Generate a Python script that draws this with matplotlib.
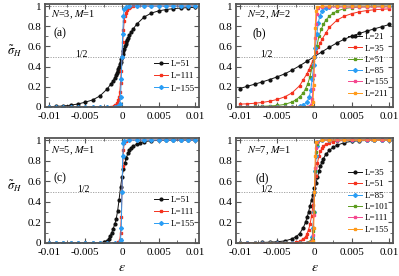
import matplotlib
matplotlib.use('Agg')
import matplotlib.pyplot as plt
from matplotlib.ticker import MultipleLocator

plt.rcParams['font.family'] = ['Liberation Serif', 'DejaVu Serif']
plt.rcParams['mathtext.fontset'] = 'stix'
plt.rcParams['axes.unicode_minus'] = False

# ---------------- data ----------------
# panel (a): N=3, M=1
a_x_L51 = [-0.01, -0.009, -0.008, -0.007, -0.006, -0.005, -0.004, -0.003, -0.002,
           -0.0015, -0.0012, -0.001, -0.0008, -0.0007, -0.0006, -0.0005, -0.0004, -0.0003, -0.0002, -0.0001,
           0.0,
           0.0001, 0.0002, 0.0003, 0.0004, 0.0005, 0.0006, 0.0007, 0.0008,
           0.001, 0.0012, 0.0015, 0.002,
           0.003, 0.004, 0.005, 0.006, 0.007, 0.008, 0.009, 0.01]
a_y_L51 = [0.004, 0.006, 0.01, 0.018, 0.03, 0.048, 0.07, 0.11, 0.18,
           0.23, 0.26, 0.29, 0.32, 0.34, 0.36, 0.38, 0.40, 0.425, 0.45, 0.475,
           0.5,
           0.525, 0.55, 0.575, 0.6, 0.62, 0.64, 0.66, 0.68,
           0.71, 0.74, 0.77, 0.82,
           0.89, 0.93, 0.952, 0.965, 0.974, 0.98, 0.984, 0.987]
a_x_L111 = [-0.01, -0.009, -0.008, -0.007, -0.006, -0.005, -0.004, -0.003, -0.002,
            -0.0015, -0.0011, -0.0009, -0.0007, -0.0005, -0.0004, -0.0003, -0.0002, -0.0001,
            0.0,
            0.0001, 0.0002, 0.0003, 0.0004, 0.0005, 0.0007, 0.0009, 0.0011, 0.0015, 0.002,
            0.003, 0.004, 0.005, 0.006, 0.007, 0.008, 0.009, 0.01]
a_y_L111 = [0.0, 0.0, 0.0, 0.0, 0.0, 0.0, 0.0, 0.0005, 0.001,
            0.003, 0.01, 0.02, 0.04, 0.07, 0.1, 0.15, 0.24, 0.36,
            0.5,
            0.64, 0.76, 0.85, 0.9, 0.93, 0.96, 0.98, 0.99, 0.997, 0.999,
            1.0, 1.0, 1.0, 1.0, 1.0, 1.0, 1.0, 1.0]
a_x_L155 = [-0.01, -0.009, -0.008, -0.007, -0.006, -0.005, -0.004, -0.003, -0.002, -0.001,
            -0.0005, -0.0003, -0.0002, -0.0001, 0.0, 0.0001, 0.0002, 0.0003, 0.0005,
            0.001, 0.002, 0.003, 0.004, 0.005, 0.006, 0.007, 0.008, 0.009, 0.01]
a_y_L155 = [0.0, 0.0, 0.0, 0.0, 0.0, 0.0, 0.0, 0.0, 0.0, 0.0,
            0.005, 0.03, 0.1, 0.28, 0.5, 0.72, 0.9, 0.97, 0.995,
            1.0, 1.0, 1.0, 1.0, 1.0, 1.0, 1.0, 1.0, 1.0, 1.0]

# panel (b): N=2, M=2
b_x_L21 = [-0.01, -0.009, -0.008, -0.007, -0.006, -0.005, -0.004, -0.003, -0.002, -0.001, 0.0,
           0.001, 0.002, 0.003, 0.004, 0.005, 0.006, 0.007, 0.008, 0.009, 0.01]
b_y_L21 = [0.183, 0.205, 0.226, 0.248, 0.272, 0.298, 0.328, 0.365, 0.408, 0.453, 0.5,
           0.547, 0.592, 0.635, 0.672, 0.702, 0.728, 0.752, 0.774, 0.795, 0.817]
b_x_L35 = [-0.01, -0.009, -0.008, -0.007, -0.006, -0.005, -0.004, -0.003, -0.002,
           -0.0015, -0.001, -0.00075, -0.0005, -0.00025, 0.0, 0.00025, 0.0005, 0.00075, 0.001, 0.0015,
           0.002, 0.003, 0.004, 0.005, 0.006, 0.007, 0.008, 0.009, 0.01]
b_y_L35 = [0.028, 0.032, 0.037, 0.045, 0.057, 0.075, 0.1, 0.14, 0.21,
           0.27, 0.33, 0.37, 0.41, 0.455, 0.5, 0.545, 0.59, 0.63, 0.67, 0.73,
           0.79, 0.86, 0.9, 0.925, 0.943, 0.955, 0.963, 0.968, 0.972]
b_x_L51 = [-0.01, -0.009, -0.008, -0.007, -0.006, -0.005, -0.004, -0.003,
           -0.0025, -0.002, -0.0015, -0.0012, -0.0009, -0.0006, -0.0003, 0.0,
           0.0003, 0.0006, 0.0009, 0.0012, 0.0015, 0.002, 0.0025,
           0.003, 0.004, 0.005, 0.006, 0.007, 0.008, 0.009, 0.01]
b_y_L51 = [0.003, 0.004, 0.005, 0.007, 0.01, 0.015, 0.025, 0.05,
           0.07, 0.1, 0.14, 0.18, 0.23, 0.3, 0.4, 0.5,
           0.6, 0.7, 0.77, 0.82, 0.86, 0.9, 0.93,
           0.95, 0.975, 0.985, 0.99, 0.993, 0.995, 0.996, 0.997]
b_x_L85 = [-0.01, -0.009, -0.008, -0.007, -0.006, -0.005, -0.004, -0.003, -0.002,
           -0.0015, -0.001, -0.0007, -0.0005, -0.0003, -0.0001, 0.0, 0.0001, 0.0003, 0.0005, 0.0007, 0.001, 0.0015,
           0.002, 0.003, 0.004, 0.005, 0.006, 0.007, 0.008, 0.009, 0.01]
b_y_L85 = [0.0, 0.0, 0.0, 0.0, 0.0, 0.0, 0.001, 0.002, 0.005,
           0.02, 0.05, 0.1, 0.17, 0.28, 0.42, 0.5, 0.58, 0.72, 0.83, 0.9, 0.95, 0.98,
           0.995, 0.998, 0.999, 1.0, 1.0, 1.0, 1.0, 1.0, 1.0]
b_x_L155 = [-0.01, -0.009, -0.008, -0.007, -0.006, -0.005, -0.004, -0.003, -0.002, -0.001,
            -0.0005, -0.0003, -0.0002, -0.0001, 0.0, 0.0001, 0.0002, 0.0003, 0.0005,
            0.001, 0.002, 0.003, 0.004, 0.005, 0.006, 0.007, 0.008, 0.009, 0.01]
b_y_L155 = [0.0, 0.0, 0.0, 0.0, 0.0, 0.0, 0.0, 0.0, 0.0, 0.0,
            0.02, 0.08, 0.18, 0.32, 0.5, 0.68, 0.82, 0.92, 0.98,
            0.99, 0.99, 0.99, 0.99, 0.99, 0.99, 0.99, 0.99, 0.99, 0.99]
b_x_L211 = [-0.01, -0.009, -0.008, -0.007, -0.006, -0.005, -0.004, -0.003, -0.002, -0.001,
            -0.0003, -0.0002, -0.0001, 0.0, 0.0001, 0.0002, 0.0003,
            0.001, 0.002, 0.003, 0.004, 0.005, 0.006, 0.007, 0.008, 0.009, 0.01]
b_y_L211 = [0.0, 0.0, 0.0, 0.0, 0.0, 0.0, 0.0, 0.0, 0.0, 0.0,
            0.01, 0.05, 0.22, 0.5, 0.78, 0.95, 0.99,
            1.0, 1.0, 1.0, 1.0, 1.0, 1.0, 1.0, 1.0, 1.0, 1.0]

# panel (c): N=5, M=1
c_x_L51 = [-0.01, -0.009, -0.008, -0.007, -0.006, -0.005, -0.004, -0.003,
           -0.0025, -0.0022, -0.002, -0.0018, -0.0016, -0.0014, -0.0012, -0.001, -0.0008, -0.0006, -0.0004, -0.0002,
           0.0, 0.0002, 0.0004, 0.0006, 0.0008, 0.001, 0.0012, 0.0015, 0.002, 0.0025,
           0.003, 0.004, 0.005, 0.006, 0.007, 0.008, 0.009, 0.01]
c_y_L51 = [0.0, 0.0, 0.0, 0.0, 0.0, 0.001, 0.002, 0.003,
           0.005, 0.01, 0.02, 0.04, 0.07, 0.1, 0.14, 0.18, 0.23, 0.31, 0.42, 0.54,
           0.64, 0.72, 0.78, 0.83, 0.87, 0.9, 0.92, 0.94, 0.96, 0.975,
           0.985, 0.993, 0.997, 0.998, 0.999, 0.999, 1.0, 1.0]
c_x_L111 = [-0.01, -0.005, -0.002, -0.001, -0.0005, -0.0003, -0.0002, -0.0001, 0.0,
            0.0001, 0.0002, 0.0003, 0.0005, 0.001, 0.002, 0.005, 0.01]
c_y_L111 = [0.0, 0.0, 0.0, 0.0, 0.005, 0.03, 0.1, 0.25, 0.5,
            0.75, 0.9, 0.97, 0.995, 1.0, 1.0, 1.0, 1.0]
c_x_L155 = [-0.01, -0.009, -0.008, -0.007, -0.006, -0.005, -0.004, -0.003, -0.002, -0.001,
            -0.0003, -0.0002, -0.0001, 0.0, 0.0001, 0.0002, 0.0003,
            0.001, 0.002, 0.003, 0.004, 0.005, 0.006, 0.007, 0.008, 0.009, 0.01]
c_y_L155 = [0.0, 0.0, 0.0, 0.0, 0.0, 0.0, 0.0, 0.0, 0.0, 0.0,
            0.005, 0.03, 0.15, 0.5, 0.85, 0.97, 0.995,
            1.0, 1.0, 1.0, 1.0, 1.0, 1.0, 1.0, 1.0, 1.0, 1.0]

# panel (d): N=7, M=1
d_x_L35 = [-0.01, -0.009, -0.008, -0.007, -0.006, -0.005, -0.004, -0.003,
           -0.0025, -0.002, -0.0015, -0.0012, -0.001, -0.0008, -0.0006, -0.0004, -0.0002,
           0.0, 0.0002, 0.0004, 0.0006, 0.0008, 0.001, 0.0012, 0.0015, 0.002, 0.0025,
           0.003, 0.004, 0.005, 0.006, 0.007, 0.008, 0.009, 0.01]
d_y_L35 = [0.001, 0.002, 0.003, 0.005, 0.008, 0.012, 0.02, 0.04,
           0.06, 0.09, 0.15, 0.2, 0.25, 0.3, 0.36, 0.42, 0.47,
           0.53, 0.58, 0.64, 0.7, 0.75, 0.79, 0.82, 0.86, 0.9, 0.93,
           0.95, 0.975, 0.988, 0.993, 0.996, 0.998, 0.999, 0.999]
d_x_L51 = [-0.01, -0.009, -0.008, -0.007, -0.006, -0.005, -0.004, -0.003,
           -0.0025, -0.002, -0.0015, -0.0012, -0.001, -0.0008, -0.0006, -0.0004, -0.0002,
           0.0, 0.0002, 0.0004, 0.0006, 0.0008, 0.001, 0.0012, 0.0015, 0.002, 0.0025,
           0.003, 0.004, 0.005, 0.006, 0.007, 0.008, 0.009, 0.01]
d_y_L51 = [0.0, 0.0, 0.0, 0.0, 0.0, 0.0, 0.001, 0.003,
           0.007, 0.015, 0.04, 0.06, 0.09, 0.13, 0.18, 0.26, 0.37,
           0.5, 0.65, 0.78, 0.85, 0.89, 0.92, 0.94, 0.96, 0.975, 0.985,
           0.99, 0.996, 0.998, 0.999, 1.0, 1.0, 1.0, 1.0]
d_x_L85 = [-0.01, -0.009, -0.008, -0.007, -0.006, -0.005, -0.004, -0.003, -0.002, -0.001,
           -0.0004, -0.0003, -0.0002, -0.0001, 0.0, 0.0001, 0.0002, 0.0003, 0.0004,
           0.001, 0.002, 0.003, 0.004, 0.005, 0.006, 0.007, 0.008, 0.009, 0.01]
d_y_L85 = [0.0, 0.0, 0.0, 0.0, 0.0, 0.0, 0.0, 0.0, 0.0, 0.0,
           0.02, 0.06, 0.15, 0.3, 0.5, 0.7, 0.85, 0.94, 0.98,
           1.0, 1.0, 1.0, 1.0, 1.0, 1.0, 1.0, 1.0, 1.0, 1.0]
d_x_L101 = [-0.01, -0.009, -0.008, -0.007, -0.006, -0.005, -0.004, -0.003, -0.002, -0.001,
            -0.0003, -0.0002, -0.0001, 0.0, 0.0001, 0.0002, 0.0003,
            0.001, 0.002, 0.003, 0.004, 0.005, 0.006, 0.007, 0.008, 0.009, 0.01]
d_y_L101 = [0.0, 0.0, 0.0, 0.0, 0.0, 0.0, 0.0, 0.0, 0.0, 0.0,
            0.04, 0.12, 0.3, 0.5, 0.7, 0.88, 0.96,
            1.0, 1.0, 1.0, 1.0, 1.0, 1.0, 1.0, 1.0, 1.0, 1.0]
d_x_L111 = [-0.01, -0.009, -0.008, -0.007, -0.006, -0.005, -0.004, -0.003, -0.002, -0.001,
            -0.0003, -0.0002, -0.0001, 0.0, 0.0001, 0.0002, 0.0003,
            0.001, 0.002, 0.003, 0.004, 0.005, 0.006, 0.007, 0.008, 0.009, 0.01]
d_y_L111 = [0.0, 0.0, 0.0, 0.0, 0.0, 0.0, 0.0, 0.0, 0.0, 0.0,
            0.02, 0.08, 0.27, 0.5, 0.73, 0.92, 0.98,
            1.0, 1.0, 1.0, 1.0, 1.0, 1.0, 1.0, 1.0, 1.0, 1.0]
d_x_L155 = [-0.01, -0.008, -0.006, -0.004, -0.002, -0.001,
            -0.0002, -0.0001, 0.0, 0.0001, 0.0002,
            0.001, 0.002, 0.004, 0.006, 0.008, 0.01]
d_y_L155 = [0.0, 0.0, 0.0, 0.0, 0.0, 0.0,
            0.02, 0.15, 0.5, 0.85, 0.98,
            1.0, 1.0, 1.0, 1.0, 1.0, 1.0]

x_ticks = [-0.01, -0.005, 0.0, 0.005, 0.01]
x_tick_labels = ['-0.01', '-0.005', '0', '0.005', '0.01']
y_ticks = [0, 0.2, 0.4, 0.6, 0.8, 1.0]
y_tick_labels = ['0', '0.2', '0.4', '0.6', '0.8', '1']

BLACK = '#111111'
RED = '#f4321e'
GREEN = '#5c9c1e'
BLUE = '#2a9df4'
PINK = '#f5478f'
ORANGE = '#ff9a1a'

# ---------------- figure ----------------
W, H = 399, 276
fig = plt.figure(figsize=(W / 100, H / 100), dpi=100)


def add_ax(l, t, r, b):
    return fig.add_axes([l / W, 1 - b / H, (r - l) / W, (b - t) / H])


ax_a = add_ax(45, 4, 199, 107)
ax_b = add_ax(236, 4, 393, 107)
ax_c = add_ax(45, 138, 199, 243)
ax_d = add_ax(236, 138, 393, 243)

FRAME = '#555555'


def style(ax, label, nm, lab_xy, nm_xy, half_x):
    ax.set_xlim(-0.0105, 0.0105)
    ax.set_ylim(0, 1.02)
    ax.set_xticks(x_ticks)
    ax.set_xticklabels(x_tick_labels)
    ax.set_yticks(y_ticks)
    ax.set_yticklabels(y_tick_labels)
    ax.xaxis.set_minor_locator(MultipleLocator(0.0025))
    ax.yaxis.set_minor_locator(MultipleLocator(0.1))
    ax.tick_params(which='both', direction='in', top=True, right=True,
                   labelsize=8, color=FRAME)
    ax.tick_params(axis='x', pad=3.5)
    ax.tick_params(axis='y', pad=2.5)
    ax.tick_params(which='major', length=3.5, width=0.8)
    ax.tick_params(which='minor', length=2, width=0.6)
    for s in ax.spines.values():
        s.set_color(FRAME)
        s.set_linewidth(1.3)
    ax.axhline(0.5, color='#999999', lw=0.6, ls=(0, (1.5, 1.5)), zorder=0)
    ax.axhline(1.0, color='#999999', lw=0.6, ls=(0, (1.5, 1.5)), zorder=0)
    ax.text(lab_xy[0], lab_xy[1], label, transform=ax.transAxes,
            fontsize=8.5, ha='center', va='center')
    ax.text(nm_xy[0], nm_xy[1], nm, transform=ax.transAxes,
            fontsize=7.5, ha='left', va='center')
    ax.text(half_x, 0.515, '1/2', fontsize=7, ha='center', va='center')


def curve(ax, x, y, color, label, marker='o'):
    ax.plot(x, y, color=color, lw=0.7, marker=marker, ms=2.0,
            mec=color, mfc=color, label=label)


style(ax_a, '(a)', '$N$=3, $M$=1', (0.1, 0.72), (0.04, 0.895), -0.0055)
curve(ax_a, a_x_L51, a_y_L51, BLACK, 'L=51')
curve(ax_a, a_x_L111, a_y_L111, RED, 'L=111', 's')
curve(ax_a, a_x_L155, a_y_L155, BLUE, 'L=155', 'D')

style(ax_b, '(b)', '$N$=2, $M$=2', (0.15, 0.72), (0.07, 0.895), -0.0065)
curve(ax_b, b_x_L21, b_y_L21, BLACK, 'L=21')
curve(ax_b, b_x_L35, b_y_L35, RED, 'L=35', 's')
curve(ax_b, b_x_L51, b_y_L51, GREEN, 'L=51', 's')
curve(ax_b, b_x_L85, b_y_L85, BLUE, 'L=85', 'D')
curve(ax_b, b_x_L155, b_y_L155, PINK, 'L=155', 's')
curve(ax_b, b_x_L211, b_y_L211, ORANGE, 'L=211', 's')

style(ax_c, '(c)', '$N$=5, $M$=1', (0.1, 0.62), (0.04, 0.875), -0.0053)
curve(ax_c, c_x_L51, c_y_L51, BLACK, 'L=51')
curve(ax_c, c_x_L111, c_y_L111, RED, 'L=111', 's')
curve(ax_c, c_x_L155, c_y_L155, BLUE, 'L=155', 'D')

style(ax_d, '(d)', '$N$=7, $M$=1', (0.165, 0.62), (0.07, 0.875), -0.0065)
curve(ax_d, d_x_L35, d_y_L35, BLACK, 'L=35')
curve(ax_d, d_x_L51, d_y_L51, RED, 'L=51', 's')
curve(ax_d, d_x_L85, d_y_L85, BLUE, 'L=85', 'D')
curve(ax_d, d_x_L101, d_y_L101, GREEN, 'L=101', 's')
curve(ax_d, d_x_L111, d_y_L111, PINK, 'L=111', 's')
curve(ax_d, d_x_L155, d_y_L155, ORANGE, 'L=155', 's')

for ax, anchor, sp in [(ax_a, (1.02, 0.07), 0.45), (ax_b, (1.02, 0.02), 0.33),
                       (ax_c, (1.02, 0.07), 0.45), (ax_d, (1.02, 0.02), 0.33)]:
    ax.legend(loc='lower right', bbox_to_anchor=anchor, frameon=False,
              fontsize=6.5, handlelength=1.6, handletextpad=0.3,
              labelspacing=sp, borderpad=0.3)

for ax in (ax_a, ax_c):
    ax.set_ylabel(r'$\tilde{\sigma}_H$', rotation=0, fontsize=9)
    ax.yaxis.set_label_coords(-0.2, 0.47)
for ax in (ax_c, ax_d):
    ax.set_xlabel(r'$\epsilon$', fontsize=10, labelpad=3)

fig.savefig('out.png', dpi=100)
